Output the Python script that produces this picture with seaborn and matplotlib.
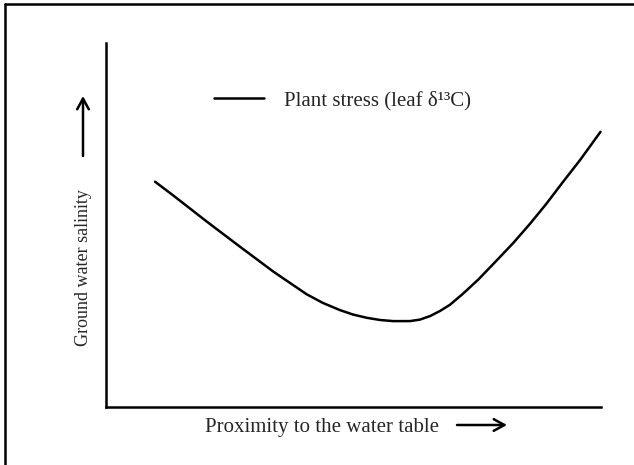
import matplotlib
matplotlib.use("Agg")
import matplotlib.pyplot as plt
import seaborn as sns
from matplotlib.lines import Line2D
from matplotlib.patches import FancyArrowPatch

# Curve (x: proximity, y: salinity / plant stress, both 0-100)
proximity = [9.9, 13.6, 20.3, 27.1, 33.8, 40.5, 43.8, 47.3, 49.9, 52.7, 55.4,
             58.0, 61.4, 63.4, 65.5, 67.5, 69.5, 72.1, 75.2, 78.6, 82.3, 85.7,
             89.0, 92.3, 95.8, 99.9]
plant_stress = [61.9, 58.1, 51.0, 44.0, 37.2, 31.0, 28.6, 26.6, 25.4, 24.5, 23.9,
                23.6, 23.6, 24.0, 25.0, 26.4, 28.1, 31.1, 35.0, 39.8, 45.1, 50.4,
                55.9, 61.8, 67.9, 75.6]

series_label = "Plant stress (leaf \u03b4\u00b9\u00b3C)"
x_label = "Proximity to the water table"
y_label = "Ground water salinity"

sns.set_style("white")
plt.rcParams['font.family'] = ['Liberation Serif', 'DejaVu Serif']

fig = plt.figure(figsize=(6.34, 4.65), dpi=100)
ax = fig.add_axes([106 / 634, 1 - 407 / 465, (601 - 106) / 634, (407 - 43) / 465])

sns.lineplot(x=proximity, y=plant_stress, ax=ax, color="black", linewidth=1.8,
             sort=False, estimator=None, label=series_label)
for ln in ax.get_lines():
    ln.set_clip_on(False)
    ln.set_solid_joinstyle("round")

ax.set_xlim(0, 100)
ax.set_ylim(0, 100)
ax.set_xticks([])
ax.set_yticks([])
ax.set_xlabel("")
ax.set_ylabel("")
for side in ["top", "right"]:
    ax.spines[side].set_visible(False)
for side in ["left", "bottom"]:
    ax.spines[side].set_color("black")
    ax.spines[side].set_linewidth(1.8)

ax.legend(loc="center left", bbox_to_anchor=(214 / 634, 1 - 101 / 465),
          bbox_transform=fig.transFigure, frameon=False, fontsize=15,
          handlelength=2.4, handletextpad=0.95, borderpad=0, borderaxespad=0)

# axis labels with arrows
fig.text(205 / 634, 1 - 427 / 465, x_label, fontsize=15, ha="left", va="center")
fig.text(83 / 634, 1 - 268 / 465, y_label, fontsize=13, rotation=90,
         ha="center", va="center")
arrow_style = "->,head_length=0.55,head_width=0.3"
fig.add_artist(FancyArrowPatch(
    (457 / 634, 1 - 425 / 465), (507 / 634, 1 - 425 / 465),
    transform=fig.transFigure, arrowstyle=arrow_style, mutation_scale=14,
    lw=1.8, color="black", shrinkA=0, shrinkB=0))
fig.add_artist(FancyArrowPatch(
    (83 / 634, 1 - 156 / 465), (83 / 634, 1 - 96 / 465),
    transform=fig.transFigure, arrowstyle=arrow_style, mutation_scale=14,
    lw=1.8, color="black", shrinkA=0, shrinkB=0))

# frame around the figure (left and top edges visible)
fig.add_artist(Line2D([5 / 634, 5 / 634], [0, 1 - 4 / 465], transform=fig.transFigure,
                      color="black", lw=1.8))
fig.add_artist(Line2D([5 / 634, 1], [1 - 4 / 465, 1 - 4 / 465], transform=fig.transFigure,
                      color="black", lw=1.8))

fig.savefig("out.png", dpi=100)
